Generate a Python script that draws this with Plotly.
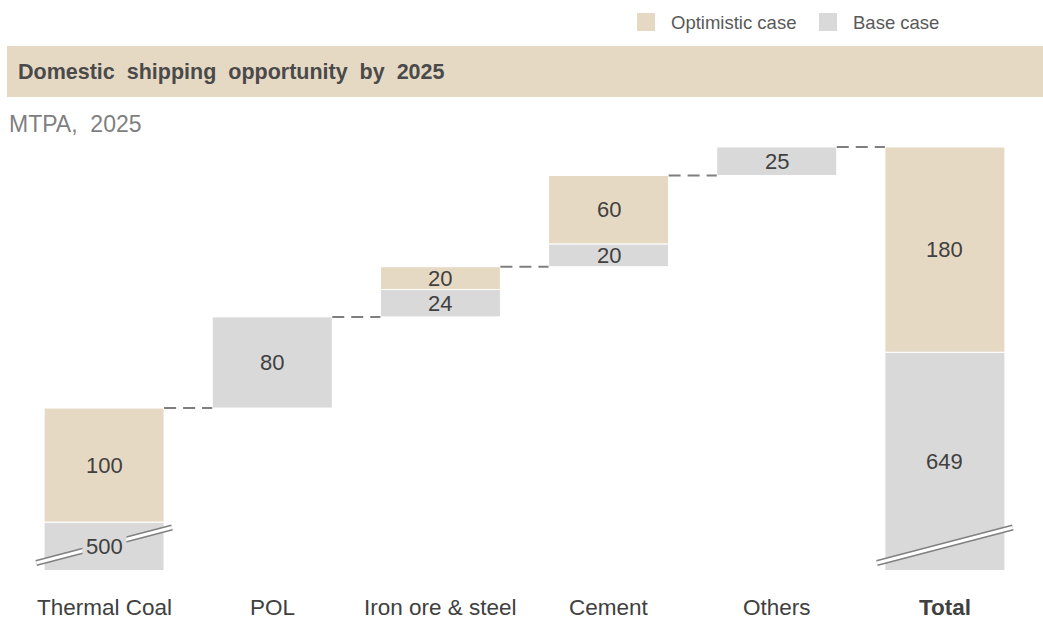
import plotly.graph_objects as go

# ---- data (MTPA, 2025) ----
categories = ["Thermal Coal", "POL", "Iron ore & steel", "Cement", "Others", "Total"]
base_case = [500, 80, 24, 20, 25, 649]
optimistic = [100, None, 20, 60, None, 180]
is_total = [False, False, False, False, False, True]

# visible floor of the broken value axis
axis_floor = 458

BEIGE = "#E6D9C4"
GREY = "#D9D9D9"
TEXT = "#404040"
FONT = "Arial, Liberation Sans, sans-serif"

# ---- waterfall bases ----
base_starts, opt_starts = [], []
running = 0
for b, o, tot in zip(base_case, optimistic, is_total):
    start = 0 if tot else running
    base_starts.append(start)
    opt_starts.append(start + b if o is not None else None)
    if not tot:
        running = start + b + (o or 0)

x = list(range(len(categories)))
bar_w = 0.7136

# figure geometry (pixels)
W, H = 1043, 619
ml, mr, mt, mb = 20, 14, 130, 49
plot_h = H - mt - mb
plot_w = W - ml - mr
px_per_unit = 1.1402
y_top = axis_floor + plot_h / px_per_unit


def paper_y(pix):
    return (H - mb - pix) / plot_h


def paper_x(pix):
    return (pix - ml) / plot_w


fig = go.Figure()
fig.add_trace(go.Bar(
    x=x, y=base_case, base=base_starts, width=bar_w, name="Base case",
    marker=dict(color=GREY, line=dict(color="white", width=1)),
    showlegend=False, hoverinfo="skip",
))
fig.add_trace(go.Bar(
    x=x, y=optimistic, base=opt_starts, width=bar_w, name="Optimistic case",
    marker=dict(color=BEIGE, line=dict(color="white", width=1)),
    showlegend=False, hoverinfo="skip",
))

shapes, annotations = [], []

# dashed connectors between consecutive bar tops
tops = [(opt_starts[i] + optimistic[i]) if optimistic[i] is not None
        else base_starts[i] + base_case[i] for i in x]
for i in range(len(x) - 1):
    shapes.append(dict(
        type="line", xref="x", yref="y",
        x0=i + bar_w / 2, x1=i + 1 - bar_w / 2, y0=tops[i], y1=tops[i],
        line=dict(color="#7F7F7F", width=2, dash="12px,7px"),
    ))

# axis-break marks on the bars that start below the floor
for i in x:
    if base_starts[i] < axis_floor:
        for col, w in (("#808080", 6), ("white", 3)):
            shapes.append(dict(
                type="line", xref="x", yref="paper",
                x0=i - bar_w / 2 - 0.047, x1=i + bar_w / 2 + 0.047,
                y0=paper_y(563), y1=paper_y(527.5),
                line=dict(color=col, width=w),
            ))

# value labels
for i in x:
    lo = max(base_starts[i], axis_floor)
    hi = base_starts[i] + base_case[i]
    ann = dict(x=i, y=(lo + hi) / 2, xref="x", yref="y", text=str(base_case[i]),
               showarrow=False, font=dict(family=FONT, size=22, color=TEXT))
    if base_starts[i] < axis_floor and not is_total[i]:
        ann.update(bgcolor=GREY, borderpad=3)
    annotations.append(ann)
    if optimistic[i] is not None:
        annotations.append(dict(
            x=i, y=opt_starts[i] + optimistic[i] / 2, xref="x", yref="y",
            text=str(optimistic[i]), showarrow=False,
            font=dict(family=FONT, size=22, color=TEXT)))

# category labels
for i, c in enumerate(categories):
    annotations.append(dict(
        x=i, y=paper_y(607), xref="x", yref="paper",
        text=f"<b>{c}</b>" if is_total[i] else c, showarrow=False,
        yanchor="middle", height=22, valign="middle",
        font=dict(family=FONT, size=22.5, color=TEXT)))

# title band
shapes.append(dict(type="rect", xref="paper", yref="paper",
                   x0=paper_x(7), x1=paper_x(1043), y0=paper_y(97), y1=paper_y(46),
                   fillcolor=BEIGE, line=dict(width=0), layer="below"))
annotations.append(dict(
    x=paper_x(16), y=paper_y(72), xref="paper", yref="paper",
    xanchor="left", yanchor="middle", showarrow=False,
    text="<b>Domestic  shipping  opportunity  by  2025</b>",
    font=dict(family=FONT, size=21.5, color="#4A4A4A")))
annotations.append(dict(
    x=paper_x(7), y=paper_y(124), xref="paper", yref="paper",
    xanchor="left", yanchor="middle", showarrow=False,
    text="MTPA,  2025", font=dict(family=FONT, size=23, color="#7F7F7F")))

# legend
for (sx, tx, label, col) in ((637, 669, "Optimistic case", BEIGE),
                             (819, 851, "Base case", GREY)):
    shapes.append(dict(type="rect", xref="paper", yref="paper",
                       x0=paper_x(sx), x1=paper_x(sx + 18),
                       y0=paper_y(31), y1=paper_y(13),
                       fillcolor=col, line=dict(width=0)))
    annotations.append(dict(
        x=paper_x(tx), y=paper_y(22), xref="paper", yref="paper",
        xanchor="left", yanchor="middle", showarrow=False, text=label,
        font=dict(family=FONT, size=18.5, color="#595959")))

fig.update_layout(
    width=W, height=H,
    margin=dict(l=ml, r=mr, t=mt, b=mb),
    paper_bgcolor="white", plot_bgcolor="white",
    barmode="overlay", showlegend=False,
    shapes=shapes, annotations=annotations,
    xaxis=dict(range=[-0.5, len(x) - 0.5], showgrid=False, zeroline=False,
               showticklabels=False, showline=False, fixedrange=True),
    yaxis=dict(range=[axis_floor, y_top], showgrid=False, zeroline=False,
               showticklabels=False, showline=False, fixedrange=True),
)

fig.write_html("out.html")
